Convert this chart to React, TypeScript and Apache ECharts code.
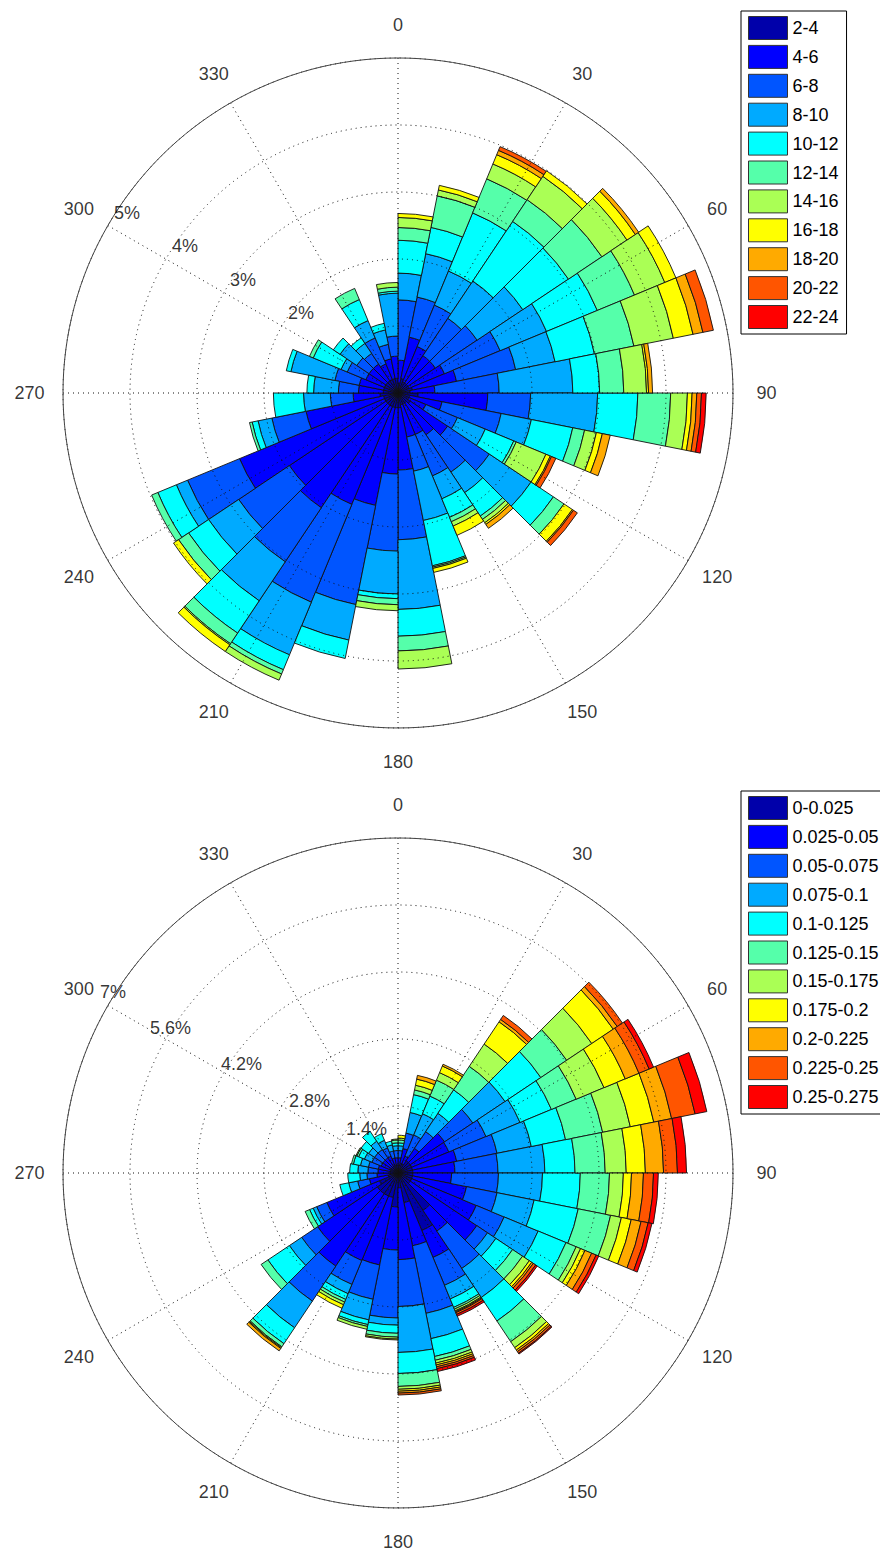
import { useEffect, useRef } from 'react';
import * as echarts from 'echarts';

// 32 direction sectors of 11.25 degrees (start angle of each sector)
const sectors = ['0', '11.25', '22.5', '33.75', '45', '56.25', '67.5', '78.75', '90', '101.25', '112.5', '123.75', '135', '146.25', '157.5', '168.75', '180', '191.25', '202.5', '213.75', '225', '236.25', '247.5', '258.75', '270', '281.25', '292.5', '303.75', '315', '326.25', '337.5', '348.75'];

const angleTicks = [0, 30, 60, 90, 120, 150, 180, 210, 240, 270, 300, 330];
const topRingTicks = [2, 3, 4, 5];
const bottomRingTicks = [1.4, 2.8, 4.2, 5.6, 7];
// label placement nudges (pixels) for the ring labels, layout only
const topRingLabelOffsets = [[6, -13], [6, -13], [6, -13], [6, -13]];
const bottomRingLabelOffsets = [[6, -11], [7, -5], [-3, -9], [-16, -11], [-8, -14]];

const classColors = ['#0000AA', '#0000FF', '#0055FF', '#00AAFF', '#00FFFF', '#55FFAA', '#AAFF55', '#FFFF00', '#FFAA00', '#FF5500', '#FF0000'];

// ---- top rose: percentages per class and sector ----
const topClasses = ['2-4', '4-6', '6-8', '8-10', '10-12', '12-14', '14-16', '16-18', '18-20', '20-22', '22-24'];
const top2to4 = [0.15, 0.22, 0.18, 0.18, 0.18, 0.18, 0.22, 0.18, 0.30, 0.18, 0.18, 0.22, 0.18, 0.18, 0.18, 0.22, 0.22, 0.22, 0.22, 0.22, 0.22, 0.22, 0.22, 0.27, 0.22, 0.22, 0.22, 0.22, 0.22, 0.22, 0.22, 0.22];
const top4to6 = [0.34, 0.63, 0.57, 0.49, 0.49, 0.57, 0.67, 0.37, 1.04, 0.49, 0.27, 0.67, 0.57, 0.49, 0.49, 0.93, 0.99, 1.49, 1.58, 1.84, 1.73, 2.34, 1.18, 0.40, 0.37, 0.37, 0.30, 0.30, 0.30, 0.25, 0.30, 0.33];
const top6to8 = [0.90, 0.61, 0.67, 0.67, 0.75, 0.90, 0.90, 0.96, 0.64, 0.90, 0.51, 0.75, 0.67, 0.67, 0.52, 1.04, 1.15, 1.51, 1.58, 0.97, 0.91, 0.84, 0.52, 0.34, 0.30, 0.37, 0.30, 0.22, 0.19, 0.42, 0.22, 0.30];
const top8to10 = [0.40, 0.66, 0.55, 0.67, 0.82, 0.75, 0.60, 1.10, 1.00, 0.46, 0.45, 0.75, 0.37, 0.37, 0.75, 1.04, 0.64, 0.54, 0.85, 0.70, 0.54, 0.18, 0.21, 0.40, 0.37, 0.67, 0.10, 0.30, 0.18, 0.28, 0.22, 0.64];
const top10to12 = [0.49, 0.40, 0.94, 1.07, 0.82, 0.82, 0.60, 0.40, 0.60, 0.63, 0.46, 0.40, 0.42, 0.30, 0.69, 0.40, 0.07, 0.28, 0.24, 0.58, 0.36, 0.30, 0.09, 0.45, 0.10, 0.07, 0.45, 0.12, 0.10, 0.34, 0.10, 0.03];
const top12to14 = [0.19, 0.48, 0.55, 0.39, 0.60, 0.60, 0.60, 0.36, 0.49, 0.18, 0.04, 0.19, 0.06, 0.07, 0.02, 0.22, 0.09, 0, 0.07, 0.19, 0.18, 0.10, 0.04, 0, 0, 0, 0.06, 0, 0, 0.18, 0, 0.06];
const top14to16 = [0.15, 0.09, 0.24, 0.42, 0.45, 0.49, 0.60, 0.34, 0.25, 0.18, 0.48, 0, 0.06, 0.07, 0.02, 0.27, 0.09, 0, 0.10, 0.02, 0, 0, 0, 0, 0, 0, 0, 0, 0, 0, 0, 0.07];
const top16to18 = [0.06, 0.07, 0.15, 0.10, 0.15, 0.18, 0.30, 0.03, 0.07, 0.09, 0.07, 0.15, 0.03, 0.15, 0.06, 0, 0, 0, 0, 0.12, 0.09, 0, 0, 0, 0, 0, 0, 0, 0, 0, 0, 0];
const top18to20 = [0, 0, 0.07, 0, 0.06, 0, 0.15, 0.06, 0.07, 0.12, 0.02, 0.02, 0.07, 0, 0, 0, 0, 0, 0, 0, 0, 0, 0, 0, 0, 0, 0, 0, 0, 0, 0, 0];
const top20to22 = [0, 0, 0.06, 0, 0, 0, 0.16, 0, 0.07, 0, 0.07, 0.07, 0, 0, 0, 0, 0, 0, 0, 0, 0, 0, 0, 0, 0, 0, 0, 0, 0, 0, 0, 0];
const top22to24 = [0, 0, 0, 0, 0, 0, 0, 0, 0.07, 0, 0, 0, 0, 0, 0, 0, 0, 0, 0, 0, 0, 0, 0, 0, 0, 0, 0, 0, 0, 0, 0, 0];

// ---- bottom rose ----
const bottomClasses = ['0-0.025', '0.025-0.05', '0.05-0.075', '0.075-0.1', '0.1-0.125', '0.125-0.15', '0.15-0.175', '0.175-0.2', '0.2-0.225', '0.225-0.25', '0.25-0.275'];
const bot000to025 = [0.17, 0.21, 0.21, 0.31, 0.31, 0.31, 0.31, 0.31, 0.31, 0.31, 0.31, 0.31, 0.94, 1.30, 0.63, 0.31, 0.71, 0.52, 0.52, 0.52, 0.52, 0.42, 0.21, 0.17, 0.17, 0.17, 0.17, 0.17, 0.17, 0.17, 0.17, 0.17];
const bot025to050 = [0.15, 0.31, 0.17, 0.31, 0.86, 0.84, 0.94, 0.88, 0.81, 1.15, 1.46, 1.67, 0.52, 0.61, 0.92, 1.50, 0.90, 1.44, 1.46, 1.82, 1.50, 1.19, 0.40, 0.27, 0.25, 0.25, 0.21, 0.21, 0.21, 0.21, 0.15, 0.15];
const bot050to075 = [0.15, 0.33, 0.48, 0.42, 0.71, 0.84, 0.86, 0.90, 0.98, 0.65, 0.63, 0.27, 0.94, 0.63, 1.44, 0.98, 1.42, 0.73, 0.54, 0.88, 0.40, 0.23, 0.25, 0.21, 0.21, 0.21, 0.21, 0.21, 0.21, 0.19, 0.15, 0.15];
const bot075to100 = [0.10, 0.44, 0.48, 0.46, 0.81, 0.77, 0.73, 0.98, 0.92, 0.79, 0.77, 0.21, 0.73, 0.31, 0.54, 0.96, 0.15, 0.44, 0.21, 0.67, 0.31, 0.08, 0.19, 0.15, 0.21, 0.17, 0.17, 0.15, 0.21, 0.17, 0.13, 0.10];
const bot100to125 = [0.06, 0.38, 0.40, 0.59, 0.90, 0.71, 0.73, 0.63, 0.79, 0.94, 0.63, 0.42, 0.59, 0.19, 0.38, 0.44, 0.17, 0.10, 0.13, 0.40, 0.54, 0.08, 0.19, 0.25, 0.17, 0.15, 0.13, 0.19, 0.25, 0.15, 0.08, 0.06];
const bot125to150 = [0.06, 0.10, 0.36, 0.59, 0.65, 0.56, 0.79, 0.63, 0.61, 0.69, 0.23, 0.25, 0.52, 0.04, 0.08, 0.27, 0.08, 0.04, 0.06, 0.08, 0.17, 0.10, 0, 0, 0, 0.04, 0.04, 0, 0, 0, 0, 0.06];
const bot150to175 = [0.04, 0.10, 0.17, 0.56, 0.63, 0.63, 0.59, 0.44, 0.29, 0.23, 0.10, 0.17, 0.15, 0.04, 0.06, 0.06, 0.04, 0.06, 0.06, 0.02, 0, 0, 0, 0, 0, 0, 0.02, 0, 0, 0, 0, 0.02];
const bot175to200 = [0.06, 0.13, 0.15, 0.56, 0.54, 0.48, 0.50, 0.40, 0.17, 0.21, 0.10, 0.06, 0.06, 0.02, 0.04, 0.04, 0.02, 0, 0.08, 0.02, 0, 0, 0, 0, 0, 0, 0, 0, 0, 0, 0, 0];
const bot200to225 = [0, 0.08, 0.04, 0.06, 0.10, 0.31, 0.38, 0.38, 0.25, 0.21, 0.15, 0.04, 0.04, 0.02, 0.04, 0.04, 0, 0, 0, 0.06, 0, 0, 0, 0, 0, 0, 0, 0, 0, 0, 0, 0];
const bot225to250 = [0, 0, 0, 0.10, 0.13, 0.23, 0.50, 0.29, 0.21, 0.15, 0.10, 0.06, 0.04, 0.04, 0.04, 0.04, 0, 0, 0, 0, 0, 0, 0, 0, 0, 0, 0, 0, 0, 0, 0, 0];
const bot250to275 = [0, 0, 0, 0, 0, 0.10, 0.25, 0.19, 0.10, 0.08, 0.06, 0.04, 0.02, 0.04, 0.06, 0, 0, 0, 0, 0, 0, 0, 0, 0, 0, 0, 0, 0, 0, 0, 0, 0];

const topValues = [top2to4, top4to6, top6to8, top8to10, top10to12, top12to14, top14to16, top16to18, top18to20, top20to22, top22to24];
const bottomValues = [bot000to025, bot025to050, bot050to075, bot075to100, bot100to125, bot125to150, bot150to175, bot175to200, bot200to225, bot225to250, bot250to275];

const FONT = 'Liberation Sans';
const FS = 18;

function buildRose(
  base: number,
  center: [number, number],
  maxR: number,
  ringInterval: number,
  ringTicks: number[],
  ringOffsets: number[][],
  classes: string[],
  values: number[][],
  stackName: string,
) {
  const polar = [
    { center, radius: 335 },
    { center, radius: 335 },
  ];
  const angleAxis = [
    {
      polarIndex: base, type: 'category', data: sectors, startAngle: 90, clockwise: true, boundaryGap: true,
      axisLine: { show: false }, axisTick: { show: false }, axisLabel: { show: false }, splitLine: { show: false },
    },
    {
      polarIndex: base + 1, type: 'value', min: 0, max: 360, interval: 30, startAngle: 90, clockwise: true, z: 5,
      axisLine: { show: true, lineStyle: { color: '#444', width: 1 } },
      axisTick: { show: false }, axisLabel: { show: false },
      splitLine: { show: true, lineStyle: { color: '#111', width: 1, type: [1, 4] } },
    },
  ];
  const radiusAxis = [
    {
      polarIndex: base, type: 'value', min: 0, max: maxR,
      axisLine: { show: false }, axisTick: { show: false }, axisLabel: { show: false }, splitLine: { show: false },
    },
    {
      polarIndex: base + 1, type: 'value', min: 0, max: maxR, interval: ringInterval, z: 5,
      axisLine: { show: false }, axisTick: { show: false }, axisLabel: { show: false },
      splitLine: { show: true, lineStyle: { color: '#111', width: 1, type: [1, 4] } },
    },
  ];
  const series: any[] = classes.map((name, i) => ({
    type: 'bar', name, coordinateSystem: 'polar', polarIndex: base, stack: stackName,
    barCategoryGap: '0%', barGap: '0%',
    data: values[i].map((v) => (v > 0 ? v : '-')),
    itemStyle: { color: classColors[i], borderColor: '#111', borderWidth: 0.9 },
    emphasis: { disabled: true },
    z: 2,
  }));
  series.push({
    type: 'scatter', coordinateSystem: 'polar', polarIndex: base + 1, symbolSize: 0, clip: false, silent: true, z: 6,
    data: angleTicks.map((a) => ({ name: String(a), value: [maxR * 1.1, a] })),
    label: { show: true, position: 'inside', formatter: '{b}', color: '#000', fontSize: FS, fontFamily: FONT },
  });
  series.push({
    type: 'scatter', coordinateSystem: 'polar', polarIndex: base + 1, symbolSize: 0, clip: false, silent: true, z: 6,
    data: ringTicks.map((t, i) => ({ name: `${t}%`, value: [t, 300], label: { offset: ringOffsets[i] } })),
    label: { show: true, position: 'right', distance: 0, formatter: '{b}', color: '#000', fontSize: FS, fontFamily: FONT },
  });
  return { polar, angleAxis, radiusAxis, series };
}

export default function App() {
  const ref = useRef<HTMLDivElement>(null);
  useEffect(() => {
    if (!ref.current) return;
    const chart = echarts.init(ref.current, undefined, { renderer: 'svg' });
    const top = buildRose(0, [398, 393], 5, 1, topRingTicks, topRingLabelOffsets, topClasses, topValues, 'top');
    const bottom = buildRose(2, [398, 1173], 7, 1.4, bottomRingTicks, bottomRingLabelOffsets, bottomClasses, bottomValues, 'bottom');
    const legendBase = {
      orient: 'vertical', left: 741, itemWidth: 39, itemHeight: 23, itemGap: 4.9,
      padding: [5, 8, 5, 7], borderColor: '#000', borderWidth: 1, backgroundColor: '#fff',
      selectedMode: false, icon: 'rect',
      itemStyle: { borderColor: '#333', borderWidth: 1 },
      textStyle: { fontSize: FS, color: '#000', fontFamily: FONT },
    };
    chart.setOption({
      animation: false,
      textStyle: { fontFamily: FONT },
      polar: [...top.polar, ...bottom.polar],
      angleAxis: [...top.angleAxis, ...bottom.angleAxis],
      radiusAxis: [...top.radiusAxis, ...bottom.radiusAxis],
      legend: [
        { ...legendBase, top: 11, data: topClasses },
        { ...legendBase, top: 791, data: bottomClasses },
      ],
      series: [...top.series, ...bottom.series],
    });
    return () => chart.dispose();
  }, []);
  return <div ref={ref} style={{ position: 'absolute', left: 0, top: 0, width: 880, height: 1555, background: '#fff' }} />;
}
